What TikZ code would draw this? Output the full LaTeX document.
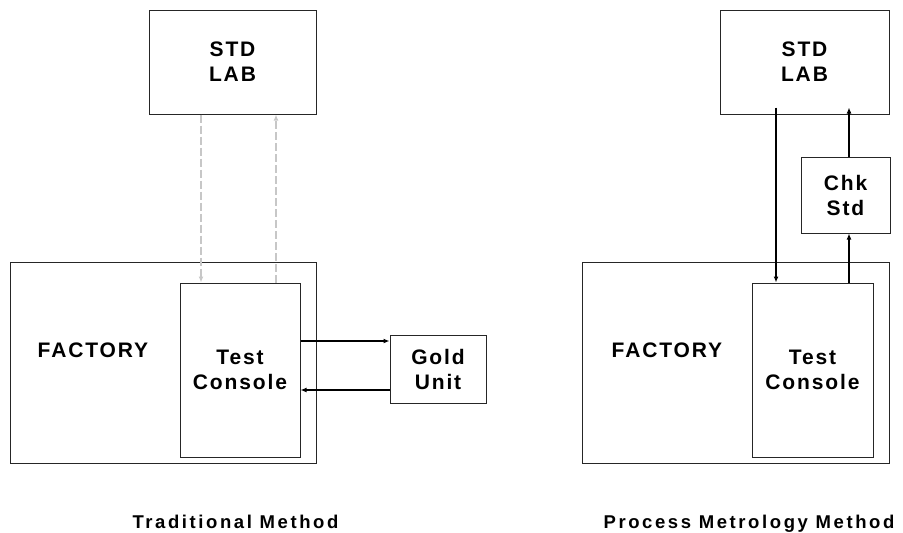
\documentclass[tikz,border=0pt]{standalone}
\usepackage{fontspec}
\setmainfont{Liberation Sans}
\newfontfamily\boxfont[LetterSpace=9]{Liberation Sans}
\newfontfamily\capfont[LetterSpace=14]{Liberation Sans}
\usetikzlibrary{arrows.meta}
\tikzset{
  box/.style={draw=black!85, line width=1pt, rectangle, inner sep=0pt, align=center,
    font=\boxfont\bfseries\fontsize{21}{25}\selectfont},
  lbl/.style={inner sep=0pt, align=center, font=\boxfont\bfseries\fontsize{21}{25}\selectfont},
  conn/.style={line width=1.8pt, -{Latex[length=6pt,width=5pt]}},
  thinconn/.style={line width=1.3pt, -{Latex[length=6pt,width=5pt]}},
  dconn/.style={draw=black!22, line width=2pt, dash pattern=on 8pt off 3pt,
    -{Latex[length=6pt,width=5pt]}},
  caption/.style={inner sep=0pt, anchor=base, font=\capfont\bfseries\fontsize{18.5}{20}\selectfont}
}
\begin{document}
\begin{tikzpicture}[x=1pt,y=-1pt]
\useasboundingbox (0,0) rectangle (903,533);
% ---- left: traditional
\node[box, minimum width=167pt, minimum height=104pt] (stdL) at (232.5,62) {STD\\LAB};
\node[box, minimum width=306pt, minimum height=201pt] (facL) at (163,362.5) {};
\node[lbl] (facLlbl) at (93,350) {FACTORY};
\node[box, minimum width=120pt, minimum height=174pt] (tcL) at (240,370) {Test\\Console};
\node[box, minimum width=96pt, minimum height=68pt] (gold) at (438,369) {Gold\\Unit};
\draw[dconn] (201,0 |- stdL.south) -- (201,0 |- tcL.north);
\draw[dconn] (276,0 |- tcL.north) -- (276,0 |- stdL.south);
\draw[thinconn] (tcL.east |- 0,341) -- (gold.west |- 0,341);
\draw[conn] (gold.west |- 0,390) -- (tcL.east |- 0,390);
\node[caption] (capL) at (235.5,528.5) {Traditional Method};
% ---- right: process metrology
\node[box, minimum width=169pt, minimum height=104pt] (stdR) at (804.5,62) {STD\\LAB};
\node[box, minimum width=307pt, minimum height=201pt] (facR) at (735.5,362.5) {};
\node[lbl] (facRlbl) at (667,350) {FACTORY};
\node[box, minimum width=121pt, minimum height=174pt] (tcR) at (812.5,370) {Test\\Console};
\node[box, minimum width=89pt, minimum height=76pt] (chk) at (845.5,195) {Chk\\Std};
\coordinate (stdRin) at ([yshift=7pt]stdR.south);
\draw[conn] (776,0 |- stdRin) -- (776,0 |- tcR.north);
\draw[conn] (849,0 |- tcR.north) -- (849,0 |- chk.south);
\draw[conn] (849,0 |- chk.north) -- (849,0 |- stdRin);
\node[caption] (capR) at (749,528.5) {Process Metrology Method};
\end{tikzpicture}
\end{document}
